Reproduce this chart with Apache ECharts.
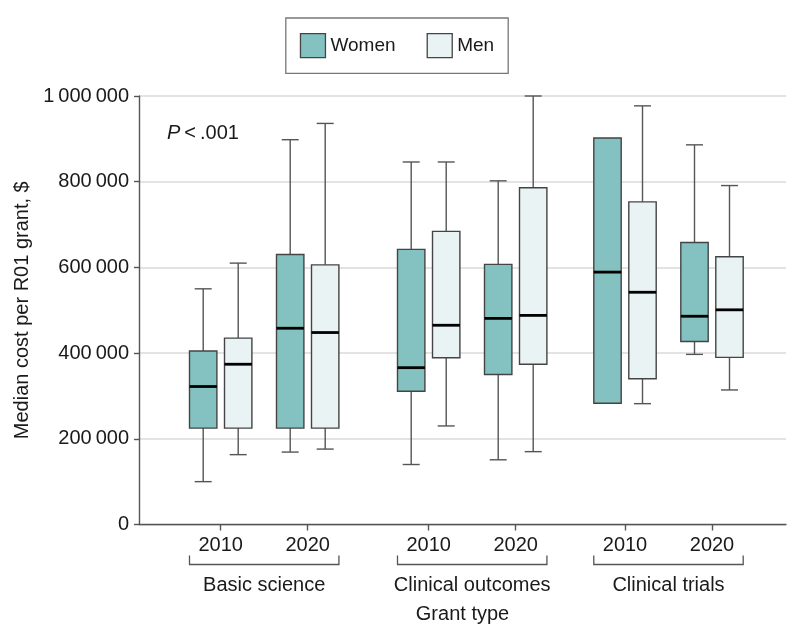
<!DOCTYPE html>
<html>
<head>
<meta charset="utf-8">
<script src="https://cdn.jsdelivr.net/npm/echarts@6/dist/echarts.min.js"></script>
<style>
html,body{margin:0;padding:0;background:#fff;}
#chart{width:794px;height:643px;}
</style>
</head>
<body>
<div id="chart"></div>
<script>
// ---------- data ----------
const groups = ['Basic science', 'Clinical outcomes', 'Clinical trials'];
const years = ['2010', '2020'];
const yTicks = [0, 200000, 400000, 600000, 800000, 1000000];
// each row: [min, Q1, median, Q3, max] for 2010 and 2020
const womenBasicScience     = [[100000, 225000, 322000, 405000, 550000], [169000, 225000, 458000, 630000, 898000]];
const womenClinicalOutcomes = [[140000, 311000, 366000, 642000, 846000], [151000, 350000, 481000, 607000, 802000]];
const womenClinicalTrials   = [[283000, 283000, 589000, 902000, 902000], [397000, 427000, 486000, 658000, 886000]];
const menBasicScience       = [[163000, 225000, 374000, 435000, 610000], [176000, 225000, 448000, 606000, 936000]];
const menClinicalOutcomes   = [[230000, 389000, 465000, 684000, 846000], [170000, 374000, 488000, 786000, 1000000]];
const menClinicalTrials     = [[282000, 340000, 542000, 753000, 977000], [314000, 390000, 501000, 625000, 791000]];
const womenByGroup = [womenBasicScience, womenClinicalOutcomes, womenClinicalTrials];
const menByGroup = [menBasicScience, menClinicalOutcomes, menClinicalTrials];

// ---------- layout / style ----------
const FONT = '"Liberation Sans", Arial, sans-serif';
const TEXT = '#1a1a1a';
const WOMEN_COLOR = '#83c2c0';
const MEN_COLOR = '#e9f3f4';
const PLOT = {left: 139, right: 8, top: 96, bottom: 118.5};
const BAND = 87;
const GROUP_LEFT = [177.2, 385.2, 581.5];
const BOX_W = 27.4, CAP_W = 17, PAIR_OFFSET = 17.5;
const AXIS_Y = 643 - PLOT.bottom;

const chart = echarts.init(document.getElementById('chart'), null, {renderer: 'canvas'});

function makeRender(offset, fill) {
  return function (params, api) {
    const c = api.value(0);
    const x = api.coord([c, api.value(3)])[0] + offset;
    const y = [1, 2, 3, 4, 5].map(i => api.coord([c, api.value(i)])[1]);
    const [yMin, yQ1, yMed, yQ3, yMax] = y;
    const wStyle = {stroke: '#555', lineWidth: 1.4, fill: null};
    const children = [];
    if (yMax < yQ3 - 0.5) {
      children.push({type: 'line', shape: {x1: x, y1: yQ3, x2: x, y2: yMax}, style: wStyle});
      children.push({type: 'line', shape: {x1: x - CAP_W / 2, y1: yMax, x2: x + CAP_W / 2, y2: yMax}, style: wStyle});
    }
    if (yMin > yQ1 + 0.5) {
      children.push({type: 'line', shape: {x1: x, y1: yQ1, x2: x, y2: yMin}, style: wStyle});
      children.push({type: 'line', shape: {x1: x - CAP_W / 2, y1: yMin, x2: x + CAP_W / 2, y2: yMin}, style: wStyle});
    }
    children.push({type: 'rect', shape: {x: x - BOX_W / 2, y: yQ3, width: BOX_W, height: yQ1 - yQ3},
      style: {fill: fill, stroke: '#444', lineWidth: 1.4}});
    children.push({type: 'line', shape: {x1: x - BOX_W / 2, y1: yMed, x2: x + BOX_W / 2, y2: yMed},
      style: {stroke: '#000', lineWidth: 2.8}});
    return {type: 'group', children: children};
  };
}

const grids = [{left: PLOT.left, right: PLOT.right, top: PLOT.top, bottom: PLOT.bottom}];
const xAxes = [{
  gridIndex: 0, type: 'value', min: 0, max: 1,
  axisLine: {show: true, lineStyle: {color: '#555', width: 1.4}},
  axisTick: {show: false}, axisLabel: {show: false}, splitLine: {show: false},
  name: 'Grant type', nameLocation: 'middle', nameGap: 80,
  nameTextStyle: {fontFamily: FONT, fontSize: 20, color: TEXT}
}];
const yAxes = [{
  gridIndex: 0, type: 'value', min: 0, max: 1000000, interval: 200000,
  axisLine: {show: true, lineStyle: {color: '#555', width: 1.4}},
  axisTick: {show: true, length: 5, lineStyle: {color: '#555', width: 1.4}},
  splitLine: {show: true, lineStyle: {color: '#dadada', width: 1.6}},
  axisLabel: {
    fontFamily: FONT, fontSize: 20, color: TEXT, margin: 10,
    formatter: v => yTicks.includes(v) ? String(v).replace(/\B(?=(\d{3})+(?!\d))/g, '\u2009') : ''
  },
  name: 'Median cost per R01 grant, $', nameLocation: 'middle', nameGap: 104,
  nameTextStyle: {fontFamily: FONT, fontSize: 20, color: TEXT}
}];
const series = [];
const graphics = [];

groups.forEach((g, i) => {
  const gi = i + 1;
  grids.push({left: GROUP_LEFT[i], width: BAND * 2, top: PLOT.top, bottom: PLOT.bottom});
  xAxes.push({
    gridIndex: gi, type: 'category', data: years, boundaryGap: true,
    axisLine: {show: false},
    axisTick: {show: true, alignWithLabel: true, length: 6, lineStyle: {color: '#555', width: 1.4}},
    axisLabel: {fontFamily: FONT, fontSize: 20, color: TEXT, margin: 11},
    splitLine: {show: false},
    name: g, nameLocation: 'middle', nameGap: 51,
    nameTextStyle: {fontFamily: FONT, fontSize: 20, color: TEXT}
  });
  yAxes.push({gridIndex: gi, type: 'value', min: 0, max: 1000000, show: false});
  series.push({
    name: 'Women', type: 'custom', xAxisIndex: gi, yAxisIndex: gi,
    itemStyle: {color: WOMEN_COLOR},
    encode: {x: 0, y: [1, 2, 3, 4, 5]},
    data: womenByGroup[i].map((d, k) => [k].concat(d)),
    renderItem: makeRender(-PAIR_OFFSET, WOMEN_COLOR)
  });
  series.push({
    name: 'Men', type: 'custom', xAxisIndex: gi, yAxisIndex: gi,
    itemStyle: {color: MEN_COLOR},
    encode: {x: 0, y: [1, 2, 3, 4, 5]},
    data: menByGroup[i].map((d, k) => [k].concat(d)),
    renderItem: makeRender(PAIR_OFFSET, MEN_COLOR)
  });
  // bracket under the pair of years
  const t1 = GROUP_LEFT[i] + BAND / 2, t2 = GROUP_LEFT[i] + BAND * 1.5;
  const bx1 = t1 - PAIR_OFFSET - BOX_W / 2, bx2 = t2 + PAIR_OFFSET + BOX_W / 2;
  graphics.push({
    type: 'polyline', silent: true,
    shape: {points: [[bx1, AXIS_Y + 31], [bx1, AXIS_Y + 40], [bx2, AXIS_Y + 40], [bx2, AXIS_Y + 31]]},
    style: {stroke: '#555', lineWidth: 1.3, fill: null}
  });
});

graphics.push({
  type: 'text', left: 167, top: 123, silent: true,
  style: {
    text: '{i|P}{n|\u2009<\u2009.001}',
    rich: {
      i: {fontFamily: FONT, fontSize: 20, fontStyle: 'italic', fill: TEXT},
      n: {fontFamily: FONT, fontSize: 20, fill: TEXT}
    }
  }
});

chart.setOption({
  backgroundColor: '#fff',
  animation: false,
  legend: {
    left: 'center', top: 18,
    padding: [15, 14, 15, 14],
    borderColor: '#777', borderWidth: 1.3,
    itemWidth: 25, itemHeight: 24, itemGap: 31,
    icon: 'rect',
    textStyle: {fontFamily: FONT, fontSize: 19, color: TEXT},
    data: [
      {name: 'Women', itemStyle: {color: WOMEN_COLOR, borderColor: '#444', borderWidth: 1.3}},
      {name: 'Men', itemStyle: {color: MEN_COLOR, borderColor: '#444', borderWidth: 1.3}}
    ]
  },
  grid: grids,
  xAxis: xAxes,
  yAxis: yAxes,
  series: series,
  graphic: graphics
});
</script>
</body>
</html>
